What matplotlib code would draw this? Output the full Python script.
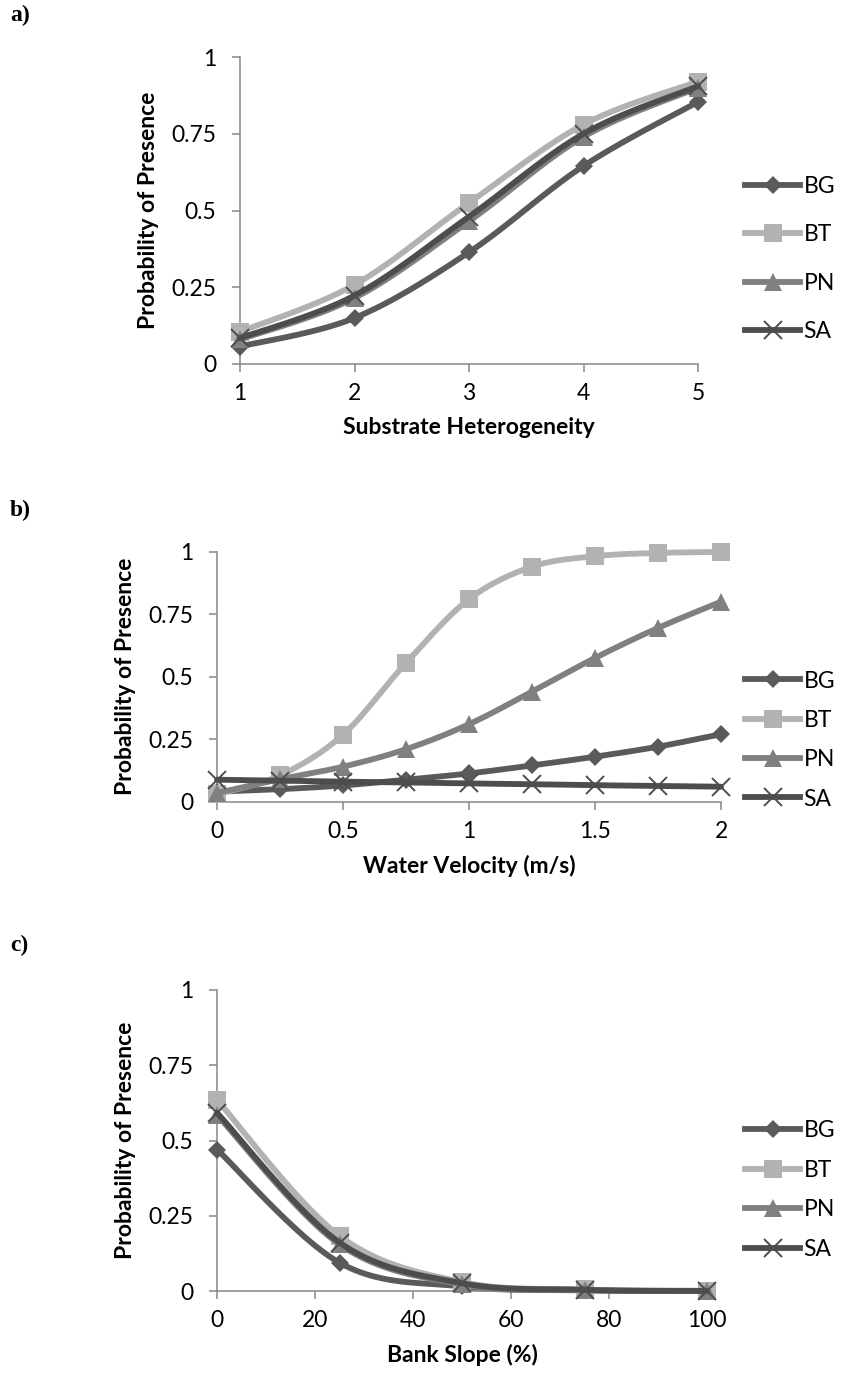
import numpy as np
import matplotlib
matplotlib.use('Agg')
import matplotlib.pyplot as plt
from matplotlib.ticker import FixedLocator, FixedFormatter

plt.rcParams['font.family'] = ['Lato', 'DejaVu Sans']

# species
species = ['BG', 'BT', 'PN', 'SA']

# a) substrate heterogeneity
subs_x = [1, 2, 3, 4, 5]
subs_y = {
    'BG': [0.057, 0.150, 0.364, 0.645, 0.854],
    'BT': [0.105, 0.258, 0.525, 0.780, 0.920],
    'PN': [0.080, 0.215, 0.465, 0.740, 0.900],
    'SA': [0.084, 0.223, 0.480, 0.750, 0.905],
}

# b) water velocity
vel_x = [0, 0.25, 0.5, 0.75, 1.0, 1.25, 1.5, 1.75, 2.0]
vel_y = {
    'BG': [0.040, 0.050, 0.065, 0.088, 0.113, 0.145, 0.180, 0.220, 0.270],
    'BT': [0.030, 0.105, 0.268, 0.555, 0.810, 0.940, 0.982, 0.995, 0.999],
    'PN': [0.035, 0.090, 0.140, 0.210, 0.310, 0.440, 0.575, 0.695, 0.800],
    'SA': [0.088, 0.084, 0.080, 0.077, 0.073, 0.070, 0.066, 0.063, 0.060],
}

# c) bank slope
slope_x = [0, 25, 50, 75, 100]
slope_y = {
    'BG': [0.470, 0.094, 0.015, 0.002, 0.000],
    'BT': [0.635, 0.183, 0.030, 0.005, 0.001],
    'PN': [0.585, 0.155, 0.022, 0.003, 0.000],
    'SA': [0.592, 0.161, 0.026, 0.004, 0.000],
}

colors = {'BG': '#5a5a5a', 'BT': '#b2b2b2', 'PN': '#808080', 'SA': '#4d4d4d'}
markers = {'BG': ('D', 9.0), 'BT': ('s', 12.5), 'PN': ('^', 12.5), 'SA': ('x', 13)}

FS = 16.5
W, H = 858, 1380
fig = plt.figure(figsize=(W / 100, H / 100), dpi=100)


def px_box(left, right, top, bottom):
    return [left / W, 1 - bottom / H, (right - left) / W, (bottom - top) / H]


def smooth(x, y, n=24):
    # Excel-style smoothed line: cubic Bezier through each pair of points
    p = np.column_stack([x, y]).astype(float)
    p = np.vstack([p[0], p, p[-1]])
    t = np.linspace(0, 1, n)[:, None]
    out = []
    for i in range(1, len(p) - 2):
        p0, p1, p2, p3 = p[i - 1], p[i], p[i + 1], p[i + 2]
        c1 = p1 + (p2 - p0) / 6
        c2 = p2 - (p3 - p1) / 6
        seg = ((1 - t) ** 3) * p1 + 3 * ((1 - t) ** 2) * t * c1 \
            + 3 * (1 - t) * t ** 2 * c2 + t ** 3 * p2
        out.append(seg)
    seg = np.vstack(out)
    return seg[:, 0], seg[:, 1]


def panel(box, xs, ys, xlim, xticks, xticklabels, xlabel, letter, letter_y,
          leg_y, leg_space):
    ax = fig.add_axes(px_box(*box))
    for k, sp in enumerate(species):
        sx, sy = smooth(xs, ys[sp])
        m, ms = markers[sp]
        mew = 1.4 if m == 'x' else 0
        ax.plot(sx, sy, color=colors[sp], lw=4.2, solid_capstyle='round',
                zorder=2 + 2 * k, clip_on=False)
        ax.plot(xs, ys[sp], ls='none', marker=m, ms=ms, mew=mew,
                color=colors[sp], zorder=3 + 2 * k, clip_on=False)
        # legend handle
        ax.plot([], [], color=colors[sp], lw=4.2, marker=m, ms=ms,
                mew=mew, label=sp)
    ax.set_xlim(*xlim)
    ax.set_ylim(0, 1)
    ax.spines['top'].set_visible(False)
    ax.spines['right'].set_visible(False)
    for s in ('left', 'bottom'):
        ax.spines[s].set_color('#868686')
        ax.spines[s].set_linewidth(1.1)
    ax.xaxis.set_major_locator(FixedLocator(xticks))
    ax.xaxis.set_major_formatter(FixedFormatter(xticklabels))
    ax.yaxis.set_major_locator(FixedLocator([0, 0.25, 0.5, 0.75, 1]))
    ax.yaxis.set_major_formatter(FixedFormatter(['0', '0.25', '0.5', '0.75', '1']))
    ax.tick_params(axis='both', direction='out', length=6, width=1.1,
                   color='#868686', labelsize=FS, labelcolor='black')
    ax.tick_params(axis='x', pad=8)
    ax.tick_params(axis='y', pad=11)
    ax.set_xlabel(xlabel, fontsize=FS, fontweight='bold', labelpad=9)
    ax.set_ylabel('Probability of Presence', fontsize=FS, fontweight='bold',
                  labelpad=9)
    handles, labels = ax.get_legend_handles_labels()
    ax.legend(handles, labels, loc='center left',
              bbox_to_anchor=(745 / W, 1 - leg_y / H),
              bbox_transform=fig.transFigure, frameon=False, fontsize=FS,
              handlelength=2.4, handletextpad=0.15, borderpad=0,
              borderaxespad=0, labelspacing=leg_space)
    fig.text(10 / W, 1 - letter_y / H, letter, fontsize=17,
             fontweight='bold', family='Liberation Serif', va='center')
    return ax


panel((240, 698, 57, 364), subs_x, subs_y, (1, 5), [1, 2, 3, 4, 5],
      ['1', '2', '3', '4', '5'], 'Substrate Heterogeneity', 'a)', 15,
      259, 1.2)
panel((217, 721, 551.7, 801.7), vel_x, vel_y, (0, 2), [0, 0.5, 1, 1.5, 2],
      ['0', '0.5', '1', '1.5', '2'], 'Water Velocity (m/s)', 'b)', 510,
      740, 0.8)
panel((217, 707, 990, 1291), slope_x, slope_y, (0, 100),
      [0, 20, 40, 60, 80, 100], ['0', '20', '40', '60', '80', '100'],
      'Bank Slope (%)', 'c)', 945, 1190, 0.82)

fig.savefig('out.png', dpi=100)
